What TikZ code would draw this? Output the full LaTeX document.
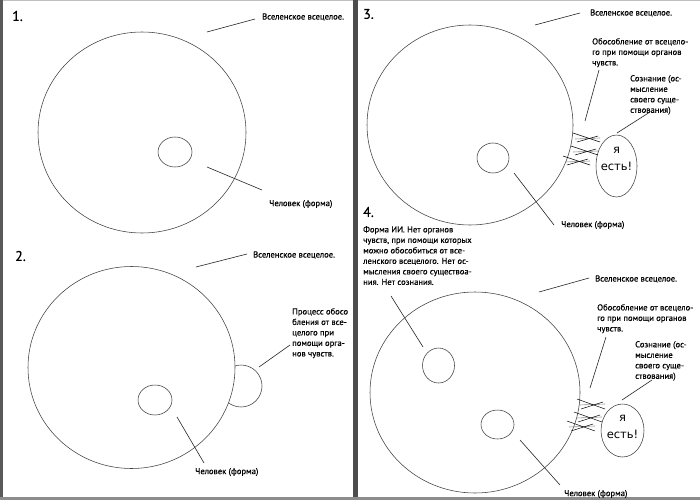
\documentclass[tikz,border=0pt]{standalone}
\usepackage{fontspec}
\newfontfamily\labfont[FakeBold=0.35]{PT Sans}
\newfontfamily\yafont{DejaVu Sans}
\begin{document}
\begin{tikzpicture}[x=1pt,y=-1pt,
  outline/.style={draw=black!75,line width=0.55pt},
  leader/.style={draw=black!85,line width=0.6pt},
  lbl/.style={font=\labfont\fontsize{8.6}{10.5}\selectfont,inner sep=0pt,anchor=west,align=left},
  mlbl/.style={font=\labfont\fontsize{8.6}{10.5}\selectfont,inner sep=0pt,anchor=north west,align=left},
  num/.style={font=\labfont\fontsize{14}{14}\selectfont,inner sep=0pt,anchor=west},
  ya/.style={font=\yafont\fontsize{11.5}{17}\selectfont,align=center,inner sep=0pt},
  organ/.style={draw=black,line width=0.5pt},
  organg/.style={draw=black!45,line width=0.6pt}]
\useasboundingbox (0,0) rectangle (700,500);
\fill[white] (0,0) rectangle (700,500);
% page frames
\fill[black!65] (0,0) rectangle (3,500);
\fill[black!70] (353,0) rectangle (358,500);
\fill[black!45] (0,497) rectangle (700,500);
\draw[black!25,line width=0.5pt] (3,0.3) -- (353,0.3);
\draw[black!25,line width=0.5pt] (358,0.3) -- (700,0.3);

% ---------- Panel 1 ----------
\node[num] (n1) at (12,16) {1.};
\draw[outline] (142,132.5) ellipse [x radius=104,y radius=100.5];
\draw[outline] (175,152) ellipse [x radius=17,y radius=15];
\node[lbl] (u1) at (262,17) {Вселенское всецелое.};
\coordinate (u1a) at (207,32); \coordinate (u1b) at (255,19);
\draw[leader] (u1a) -- (u1b);
\node[lbl] (h1) at (269,204) {Человек (форма)};
\coordinate (h1a) at (207,167); \coordinate (h1b) at (262,190);
\draw[leader] (h1a) -- (h1b);

% ---------- Panel 2 ----------
\node[num] (n2) at (15,256) {2.};
\draw[outline] (241,386) circle [radius=21];
\draw[outline,fill=white] (131.5,367.5) ellipse [x radius=103.5,y radius=101];
\draw[outline] (155,400) ellipse [x radius=17,y radius=15];
\node[lbl] (u2) at (253,255) {Вселенское всецелое.};
\coordinate (u2a) at (196,267); \coordinate (u2b) at (247,254);
\draw[leader] (u2a) -- (u2b);
\node[mlbl] (p2) at (292,308) {Процесс обосо\\бления от все-\\целого при\\помощи орга-\\нов чувств.};
\coordinate (p2a) at (259,367); \coordinate (p2b) at (290,345);
\draw[leader] (p2a) -- (p2b);
\node[lbl] (h2) at (195,472) {Человек (форма)};
\coordinate (h2a) at (177,417); \coordinate (h2b) at (204,463);
\draw[leader] (h2a) -- (h2b);

% ---------- Panel 3 ----------
\node[num] (n3) at (363,14) {3.};
\draw[outline] (470,125) ellipse [x radius=103,y radius=100];
\draw[outline] (493,158) ellipse [x radius=16,y radius=15];
\node[lbl] (u3) at (590,13) {Вселенское всецелое.};
\coordinate (u3a) at (535,25); \coordinate (u3b) at (580,13);
\draw[leader] (u3a) -- (u3b);
\node[mlbl] (o3) at (592,38) {Обособление от всецело-\\го при помощи органов\\чувств.};
\coordinate (o3a) at (599,70); \coordinate (o3b) at (585,121);
\draw[leader] (o3a) -- (o3b);
\node[mlbl] (s3) at (630,75) {Сознание (ос-\\мысление\\своего суще-\\ствования)};
\coordinate (s3a) at (617,133); \coordinate (s3b) at (650,112);
\draw[leader] (s3a) -- (s3b);
\draw[outline] (616.5,166) ellipse [x radius=20.5,y radius=31];
\node[ya] (y3) at (616.5,159) {я\\есть!};
\foreach \bx/\by in {573/133, 571/146, 563/156}{
  \draw[organg] (\bx+2,\by+6) -- (\bx+27,\by+5);
  \draw[organ] (\bx,\by) -- (\bx+27,\by+9);
  \draw[organ] (\bx+4,\by+9) -- (\bx+25,\by+3);
}
\node[lbl] (h3) at (561,225) {Человек (форма)};
\coordinate (h3a) at (514,173); \coordinate (h3b) at (554,225);
\draw[leader] (h3a) -- (h3b);

% ---------- Panel 4 ----------
\node[num] (n4) at (363,212) {4.};
\node[mlbl] (f4) at (363,226) {Форма ИИ. Нет органов\\чувств, при помощи которых\\можно обособиться от все-\\ленского всецелого. Нет ос-\\мысления своего существоа-\\ния. Нет сознания.};
\coordinate (f4a) at (391,296); \coordinate (f4b) at (423,347);
\draw[leader] (f4a) -- (f4b);
\draw[outline] (475,392.5) ellipse [x radius=105,y radius=100.5];
\draw[outline] (438.5,365.5) ellipse [x radius=16,y radius=17.5];
\draw[outline] (497.5,424.5) ellipse [x radius=16.5,y radius=14.5];
\node[lbl] (u4) at (595,279) {Вселенское всецелое.};
\coordinate (u4a) at (539,292); \coordinate (u4b) at (589,278);
\draw[leader] (u4a) -- (u4b);
\node[mlbl] (o4) at (597,304) {Обособление от всецело-\\го при помощи органов\\чувств.};
\coordinate (o4a) at (606,337); \coordinate (o4b) at (590,388);
\draw[leader] (o4a) -- (o4b);
\node[mlbl] (s4) at (635,341) {Сознание (ос-\\мысление\\своего суще-\\ствования)};
\coordinate (s4a) at (622,400); \coordinate (s4b) at (652,380);
\draw[leader] (s4a) -- (s4b);
\draw[outline] (622.5,430.5) ellipse [x radius=21.5,y radius=26.5];
\node[ya] (y4) at (622.5,427) {я\\есть!};
\foreach \bx/\by in {577/399, 574/412, 567/421}{
  \draw[organg] (\bx+2,\by+6) -- (\bx+28,\by+5);
  \draw[organ] (\bx,\by) -- (\bx+28,\by+10);
  \draw[organ] (\bx+4,\by+10) -- (\bx+26,\by+3);
}
\node[lbl] (h4) at (564,494) {Человек (форма)};
\coordinate (h4a) at (520,440); \coordinate (h4b) at (560,485);
\draw[leader] (h4a) -- (h4b);
\end{tikzpicture}
\end{document}
